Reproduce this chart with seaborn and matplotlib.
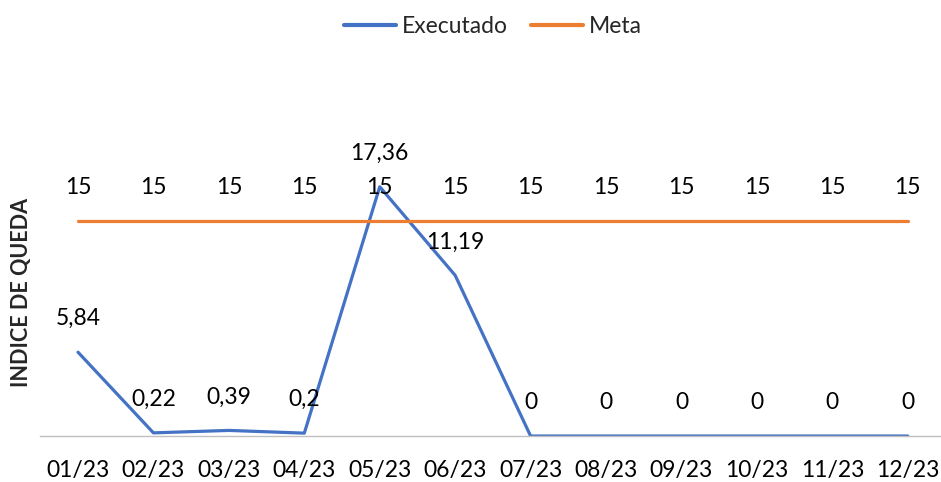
import pandas as pd
import matplotlib.pyplot as plt
import seaborn as sns
from matplotlib.lines import Line2D

# Chart data
meses = ["01/23", "02/23", "03/23", "04/23", "05/23", "06/23",
         "07/23", "08/23", "09/23", "10/23", "11/23", "12/23"]
executado = [5.84, 0.22, 0.39, 0.2, 17.36, 11.19, 0, 0, 0, 0, 0, 0]
meta = [15] * 12

df = pd.DataFrame({"mes": meses * 2,
                   "valor": executado + meta,
                   "serie": ["Executado"] * 12 + ["Meta"] * 12})

sns.set_style("white")
plt.rcParams["font.family"] = ["Lato", "DejaVu Sans"]

fs = 16.5
fig = plt.figure(figsize=(9.41, 4.82), dpi=100)
ax = fig.add_axes([0.0428, 0.0954, 0.962, 0.697])

sns.lineplot(data=df, x="mes", y="valor", hue="serie", sort=False,
             palette={"Executado": "#4472C4", "Meta": "#ED7D31"},
             linewidth=2.3, ax=ax, legend=False)

def fmt(v):
    return f"{v:g}".replace(".", ",")

# data labels
for i, v in enumerate(executado):
    ax.annotate(fmt(v), (i, v), xytext=(0, 24), textcoords="offset points",
                ha="center", va="center", fontsize=fs, color="black")
for i, v in enumerate(meta):
    ax.annotate(fmt(v), (i, v), xytext=(0, 24), textcoords="offset points",
                ha="center", va="center", fontsize=fs, color="black")

ax.set_xlim(-0.5, 11.5)
ax.set_ylim(0, 23.4)
ax.set_yticks([])
ax.set_xlabel("")
ax.set_ylabel("INDICE DE QUEDA", fontsize=15.5, fontweight="bold")
ax.yaxis.set_label_coords(-0.009, 0.426)
ax.tick_params(axis="x", labelsize=fs, length=0, pad=17, labelcolor="black")
for s in ["top", "right", "left"]:
    ax.spines[s].set_visible(False)
ax.spines["bottom"].set_color("#BFBFBF")
ax.spines["bottom"].set_linewidth(1)

# legend at top
handles = [Line2D([], [], color="#4472C4", lw=3),
           Line2D([], [], color="#ED7D31", lw=3)]
fig.legend(handles, ["Executado", "Meta"], loc="center", bbox_to_anchor=(0.524, 0.946),
           ncol=2, frameon=False, fontsize=fs, handlelength=2.26,
           handletextpad=0.26, columnspacing=1.0)

fig.savefig("out.png", dpi=100)
